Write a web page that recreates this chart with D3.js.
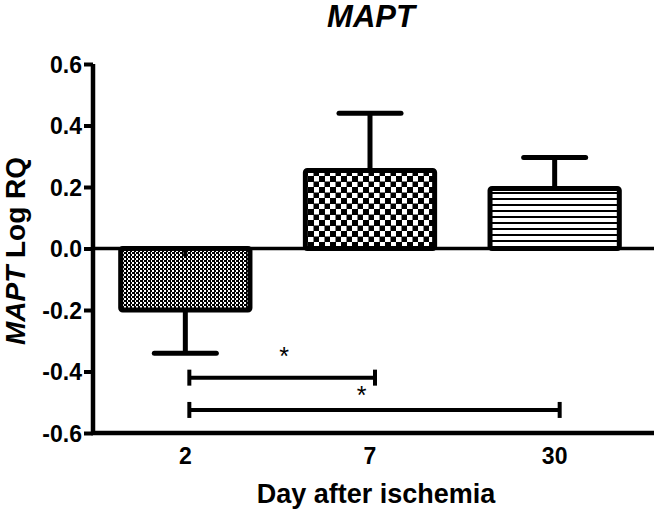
<!DOCTYPE html>
<html>
<head>
<meta charset="utf-8">
<script src="https://cdn.jsdelivr.net/npm/d3@7"></script>
<style>
  html, body { margin: 0; padding: 0; background: #fff; }
  svg { display: block; }
  text { font-family: "Liberation Sans", Arial, sans-serif; }
</style>
</head>
<body>
<svg id="chart" width="654" height="509"></svg>
<script>
// ---- data ----
const categories = ["2", "7", "30"];
const means      = [-0.20, 0.254, 0.195];
const errors     = [0.141, 0.186, 0.101];
const patterns   = ["fine", "checker", "hlines"];
const yTicks     = [-0.6, -0.4, -0.2, 0.0, 0.2, 0.4, 0.6];
const brackets   = [
  { from: "2", to: "7",  level: -0.42,  labelLevel: -0.338, label: "*" },
  { from: "2", to: "30", level: -0.525, labelLevel: -0.465, label: "*" }
];
const titleText  = "MAPT";
const xTitle     = "Day after ischemia";

// ---- layout ----
const W = 654, H = 509;
const mLeft = 93, mRight = 647, mTop = 64, mBottom = 433;
const svg = d3.select("#chart");

const x = d3.scaleBand().domain(categories).range([mLeft, mRight])
  .paddingInner(0.3).paddingOuter(0.15);
const y = d3.scaleLinear().domain([-0.6, 0.6]).range([mBottom, mTop]);

// patterns
const defs = svg.append("defs");
const pf = defs.append("pattern").attr("id", "fine").attr("patternUnits", "userSpaceOnUse")
  .attr("width", 4).attr("height", 4);
pf.append("rect").attr("width", 4).attr("height", 4).attr("fill", "#fff");
pf.append("rect").attr("x", 0).attr("y", 0).attr("width", 2).attr("height", 2).attr("fill", "#000");
pf.append("rect").attr("x", 2).attr("y", 2).attr("width", 2).attr("height", 2).attr("fill", "#000");
pf.append("rect").attr("x", 2).attr("y", 0).attr("width", 1).attr("height", 2).attr("fill", "#000");

const pc = defs.append("pattern").attr("id", "checker").attr("patternUnits", "userSpaceOnUse")
  .attr("width", 11).attr("height", 11);
pc.append("rect").attr("width", 11).attr("height", 11).attr("fill", "#fff");
pc.append("rect").attr("x", 0).attr("y", 0).attr("width", 6).attr("height", 6).attr("fill", "#000");
pc.append("rect").attr("x", 5.5).attr("y", 5.5).attr("width", 6).attr("height", 6).attr("fill", "#000");

const ph = defs.append("pattern").attr("id", "hlines").attr("patternUnits", "userSpaceOnUse")
  .attr("width", 10).attr("height", 6);
ph.append("rect").attr("width", 10).attr("height", 6).attr("fill", "#fff");
ph.append("rect").attr("x", 0).attr("y", 0).attr("width", 10).attr("height", 2).attr("fill", "#000");

const data = categories.map((c, i) => ({ c, m: means[i], e: errors[i], p: patterns[i] }));

// error bars (drawn first, bars cover inner part)
const eb = svg.append("g").attr("stroke", "#000").attr("stroke-width", 5).attr("stroke-linecap", "round");
data.forEach(d => {
  const cx = x(d.c) + x.bandwidth() / 2;
  const tip = d.m + Math.sign(d.m) * d.e;
  eb.append("line").attr("x1", cx).attr("x2", cx).attr("y1", y(d.m)).attr("y2", y(tip)).attr("stroke-linecap", "butt");
  eb.append("line").attr("x1", cx - 31).attr("x2", cx + 31).attr("y1", y(tip)).attr("y2", y(tip));
  eb.append("line").attr("x1", cx).attr("x2", cx).attr("y1", y(0)).attr("y2", y(0) - Math.sign(d.m) * 9)
    .attr("stroke-width", 4).attr("stroke-linecap", "butt");
});

// bars
svg.append("g").selectAll("rect").data(data).join("rect")
  .attr("x", d => x(d.c))
  .attr("width", x.bandwidth())
  .attr("y", d => y(Math.max(0, d.m)))
  .attr("height", d => Math.abs(y(d.m) - y(0)))
  .attr("fill", d => `url(#${d.p})`)
  .attr("stroke", "#000").attr("stroke-width", 5)
  .attr("rx", 2);

// notch for negative bar
data.filter(d => d.m < 0).forEach(d => {
  const cx = x(d.c) + x.bandwidth() / 2;
  svg.append("line").attr("x1", cx).attr("x2", cx).attr("y1", y(0)).attr("y2", y(0) + 8)
    .attr("stroke", "#000").attr("stroke-width", 4);
});

// zero line
svg.append("line").attr("x1", mLeft).attr("x2", W).attr("y1", y(0)).attr("y2", y(0))
  .attr("stroke", "#000").attr("stroke-width", 3.5);

// y axis
const fmt = d3.format(".1f");
const yAxis = d3.axisLeft(y).tickValues(yTicks).tickFormat(d => fmt(d).replace("\u2212", "-"))
  .tickSize(9).tickPadding(2);
const gy = svg.append("g").attr("transform", `translate(${mLeft},0)`).call(yAxis);
gy.select(".domain").attr("stroke-width", 4.5).attr("d", `M0,${mTop}V${mBottom}`);
gy.selectAll(".tick line").attr("stroke-width", 4);
gy.selectAll(".tick text").attr("font-size", 23).attr("font-weight", "bold")
  .attr("font-family", "Liberation Sans, Arial, sans-serif").attr("fill", "#000")
  .attr("dy", "0.36em");

// x axis
const xAxis = d3.axisBottom(x).tickSize(0).tickPadding(15);
const gx = svg.append("g").attr("transform", `translate(0,${mBottom})`).call(xAxis);
gx.select(".domain").attr("stroke-width", 4.5).attr("d", `M${mLeft - 2},0H${W}`);
gx.selectAll(".tick text").attr("font-size", 23).attr("font-weight", "bold")
  .attr("font-family", "Liberation Sans, Arial, sans-serif").attr("fill", "#000")
  .attr("dy", "0.71em");

// brackets
brackets.forEach((b, i) => {
  const x1 = x(b.from) + x.bandwidth() / 2 + 4;
  const x2 = x(b.to) + x.bandwidth() / 2 + 5;
  const yy = y(b.level);
  const g = svg.append("g").attr("stroke", "#000").attr("stroke-width", 4);
  g.append("line").attr("x1", x1).attr("x2", x2).attr("y1", yy).attr("y2", yy);
  g.append("line").attr("x1", x1).attr("x2", x1).attr("y1", yy - 8).attr("y2", yy + 8);
  g.append("line").attr("x1", x2).attr("x2", x2).attr("y1", yy - 8).attr("y2", yy + 8);
  const lx = i === 0 ? (x1 + x2) / 2 + 2 : (x1 + x2) / 2 - 13;
  svg.append("text").attr("x", lx).attr("y", y(b.labelLevel) + 13)
    .attr("text-anchor", "middle").attr("font-size", 25).text(b.label);
});

// title
svg.append("text").attr("x", 371).attr("y", 27).attr("text-anchor", "middle")
  .attr("font-size", 31).attr("font-weight", "bold").attr("font-style", "italic").text(titleText);

// x title
svg.append("text").attr("x", 376).attr("y", 503).attr("text-anchor", "middle")
  .attr("font-size", 27).attr("font-weight", "bold").text(xTitle);

// y title
const yt = svg.append("text").attr("transform", `translate(25,251) rotate(-90)`)
  .attr("text-anchor", "middle").attr("font-size", 28).attr("font-weight", "bold");
yt.append("tspan").attr("font-style", "italic").text("MAPT");
yt.append("tspan").text(" Log RQ");
</script>
</body>
</html>
